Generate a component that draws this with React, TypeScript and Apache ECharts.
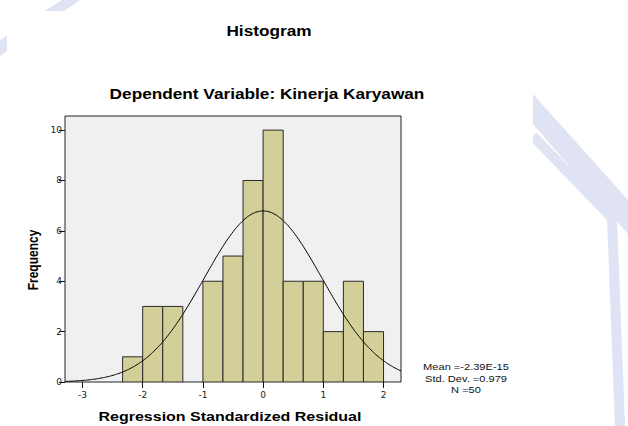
import React, { useEffect, useRef } from "react";
import * as echarts from "echarts";

// ---- Data ----
const BIN_EDGES = [-2.3333, -2.0, -1.6667, -1.3333, -1.0, -0.6667, -0.3333, 0.0, 0.3333, 0.6667, 1.0, 1.3333, 1.6667, 2.0];
const COUNTS = [1, 3, 3, 0, 4, 5, 8, 10, 4, 4, 2, 4, 2];
const X_TICKS = [-3, -2, -1, 0, 1, 2];
const Y_TICKS = [0, 2, 4, 6, 8, 10];
const MEAN = -2.39e-15;
const STD_DEV = 0.979;
const N = 50;
const STATS_LINES = ["Mean =-2.39E-15", "Std. Dev. =0.979", "N =50"];
const TITLE = "Histogram";
const SUBTITLE = "Dependent Variable: Kinerja Karyawan";
const X_NAME = "Regression Standardized Residual";
const Y_NAME = "Frequency";

const X_MIN = -3.29;
const X_MAX = 2.29;
const Y_MAX = 10.56;

export default function App() {
  const ref = useRef<HTMLDivElement>(null);
  useEffect(() => {
    if (!ref.current) return;
    const chart = echarts.init(ref.current, null, { renderer: "svg" });

    const bars = COUNTS.map((c, i) => [BIN_EDGES[i], BIN_EDGES[i + 1], c]);
    const binWidth = BIN_EDGES[1] - BIN_EDGES[0];
    // Normal curve fitted from the displayed Mean / Std. Dev. / N (as drawn by SPSS)
    const curve: number[][] = [];
    const steps = 280;
    for (let k = 0; k <= steps; k++) {
      const x = X_MIN + ((X_MAX - X_MIN) * k) / steps;
      const z = (x - MEAN) / STD_DEV;
      const y = (N * binWidth) / (STD_DEV * Math.sqrt(2 * Math.PI)) * Math.exp(-0.5 * z * z);
      curve.push([x, y]);
    }

    const font = "'Liberation Sans', Arial, Helvetica, sans-serif";
    const wm = "#dfe3f3";
    const sx = 1.23;

    chart.setOption({
      animation: false,
      backgroundColor: "#ffffff",
      grid: {
        left: 65,
        top: 116,
        width: 336,
        height: 266,
        show: true,
        backgroundColor: "#f0f0f0",
        borderColor: "#222",
        borderWidth: 1,
      },
      xAxis: {
        type: "value",
        min: X_MIN,
        max: X_MAX,
        axisLine: { show: false, onZero: false },
        splitLine: { show: false },
        axisTick: { show: true, length: 6, lineStyle: { color: "#111", width: 1 }, customValues: X_TICKS },
        axisLabel: {
          customValues: X_TICKS,
          fontSize: 9,
          color: "#222",
          margin: 8,
          fontFamily: "'DejaVu Sans', sans-serif",
        },
      },
      yAxis: {
        type: "value",
        min: 0,
        max: Y_MAX,
        axisLine: { show: false, onZero: false },
        splitLine: { show: false },
        axisTick: { show: true, length: 6, lineStyle: { color: "#111", width: 1 }, customValues: Y_TICKS },
        axisLabel: {
          customValues: Y_TICKS,
          fontSize: 9,
          color: "#222",
          margin: 3,
          fontFamily: "'DejaVu Sans', sans-serif",
        },
      },
      graphic: [
        // watermark
        { type: "polygon", z: -10, shape: { points: [[0, 40], [62, 0], [80, 0], [0, 56]] }, style: { fill: wm } },
        { type: "polygon", z: -10, shape: { points: [[533, 94], [628, 200], [628, 234], [533, 124]] }, style: { fill: wm } },
        {
          type: "polyline",
          z: -10,
          shape: { points: [[533, 136], [612, 218], [620, 426]] },
          style: { stroke: wm, lineWidth: 10, fill: null },
        },
        // white panel
        { type: "rect", z: -5, shape: { x: 7, y: 11, width: 526, height: 420 }, style: { fill: "#ffffff" } },
        {
          type: "text",
          x: 269,
          y: 31,
          scaleX: sx,
          style: { text: TITLE, font: `bold 14px ${font}`, fill: "#000", align: "center", verticalAlign: "middle" },
        },
        {
          type: "text",
          x: 267,
          y: 94,
          scaleX: sx,
          style: { text: SUBTITLE, font: `bold 14px ${font}`, fill: "#000", align: "center", verticalAlign: "middle" },
        },
        {
          type: "text",
          x: 230,
          y: 417,
          scaleX: sx,
          style: { text: X_NAME, font: `bold 13px ${font}`, fill: "#000", align: "center", verticalAlign: "middle" },
        },
        {
          type: "text",
          x: 33,
          y: 260,
          rotation: Math.PI / 2,
          scaleY: sx,
          style: { text: Y_NAME, font: `bold 12px ${font}`, fill: "#000", align: "center", verticalAlign: "middle" },
        },
        ...STATS_LINES.map((t, i) => ({
          type: "text",
          x: 466,
          y: 367 + i * 11.5,
          scaleX: sx,
          style: { text: t, font: `9px ${font}`, fill: "#111", align: "center", verticalAlign: "middle" },
        })),
      ],
      series: [
        {
          type: "custom",
          data: bars,
          clip: true,
          renderItem: (params: any, api: any) => {
            const lo = api.value(0);
            const hi = api.value(1);
            const c = api.value(2);
            if (!c) return null;
            const p0 = api.coord([lo, c]);
            const p1 = api.coord([hi, 0]);
            return {
              type: "rect",
              shape: { x: p0[0], y: p0[1], width: p1[0] - p0[0], height: p1[1] - p0[1] },
              style: { fill: "#d3cf98", stroke: "#2a2a2a", lineWidth: 1 },
            };
          },
        },
        {
          type: "line",
          data: curve,
          showSymbol: false,
          symbol: "none",
          clip: true,
          z: 5,
          lineStyle: { color: "#000", width: 1 },
        },
      ],
    });
    return () => chart.dispose();
  }, []);
  return <div ref={ref} style={{ position: "fixed", left: 0, top: 0, width: 628, height: 426 }} />;
}
